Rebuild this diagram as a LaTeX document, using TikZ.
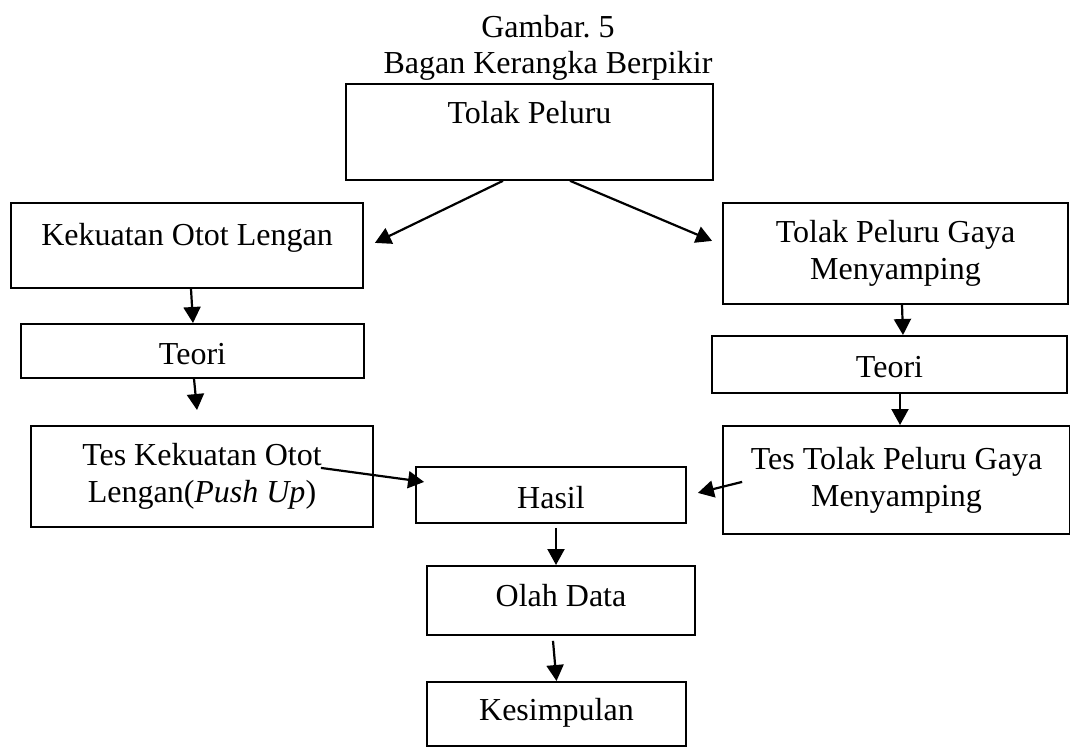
\documentclass[tikz,border=0pt]{standalone}
\usepackage{fontspec}
\setmainfont{Liberation Serif}
\usetikzlibrary{arrows.meta}

\begin{document}
\begin{tikzpicture}[x=0.5pt, y=-0.5pt,
  every node/.style={font=\fontsize{16}{18.5}\selectfont},
  kotak/.style={draw, line width=0.9pt, inner sep=0pt, anchor=north, align=center},
  panah/.style={line width=1.1pt, -{Triangle[length=8pt, width=8.5pt]}}]
\useasboundingbox (0, 0) rectangle (1070, 751);

\node[anchor=base] (judul) at (548, 37) {Gambar.\ 5};
\node[anchor=base] (subjudul) at (548, 73) {Bagan Kerangka Berpikir};

\node[kotak, minimum width=183.5pt, text height=20pt, text depth=28pt] (tolak) at (529.5, 83) {Tolak Peluru};

\node[kotak, minimum width=176pt, text height=21.5pt, text depth=21pt] (kekuatan) at (187, 202) {Kekuatan Otot Lengan};
\node[kotak, minimum width=172.5pt, minimum height=50.5pt] (gaya) at (895.5, 202) {Tolak Peluru Gaya\\Menyamping};

\node[kotak, minimum width=171.5pt, text height=20.5pt, text depth=6.5pt] (teorikiri) at (192.5, 323) {Teori};
\node[kotak, minimum width=177.5pt, text height=21pt, text depth=7.5pt] (teorikanan) at (889.5, 335) {Teori};

\node[kotak, minimum width=171pt, minimum height=50.5pt] (teskekuatan) at (202, 425) {Tes Kekuatan Otot\\Lengan(\textit{Push Up})};
\node[kotak, minimum width=173.5pt, minimum height=54pt] (testolak) at (896.5, 425) {Tes Tolak Peluru Gaya\\Menyamping};

\node[kotak, minimum width=135pt, text height=21pt, text depth=7pt] (hasil) at (551, 466) {Hasil};
\node[kotak, minimum width=134pt, text height=20.5pt, text depth=14pt] (olah) at (561, 565) {Olah Data};
\node[kotak, minimum width=129.5pt, text height=19.5pt, text depth=12.5pt] (kesimpulan) at (556.5, 681) {Kesimpulan};

\draw[panah] ([xshift=-13.25pt]tolak.south) -- ([xshift=5.5pt, yshift=1.25pt]kekuatan.east);
\draw[panah] ([xshift=20.25pt]tolak.south) -- ([xshift=-5pt, yshift=6.25pt]gaya.west);

\draw[panah] ([xshift=2pt]kekuatan.south) -- ([xshift=0.25pt]teorikiri.north);
\draw[panah] ([xshift=0.75pt]teorikiri.south) -- ([xshift=-2.5pt, yshift=7.5pt]teskekuatan.north);
\draw[panah] ([xshift=3.25pt]gaya.south) -- ([xshift=6.75pt]teorikanan.north);
\draw[panah] ([xshift=5.25pt]teorikanan.south) -- ([xshift=1.75pt]testolak.north);

\draw[panah] ([xshift=-26.5pt, yshift=4.25pt]teskekuatan.east) -- ([xshift=4.5pt, yshift=6.5pt]hasil.west);
\draw[panah] ([xshift=10pt, yshift=-1pt]testolak.west) -- ([xshift=5.5pt, yshift=1pt]hasil.east);

\draw[panah] ([xshift=2.5pt, yshift=-2pt]hasil.south) -- ([xshift=-2.5pt]olah.north);
\draw[panah] ([xshift=-4pt, yshift=-2.5pt]olah.south) -- (kesimpulan.north);
\end{tikzpicture}
\end{document}
